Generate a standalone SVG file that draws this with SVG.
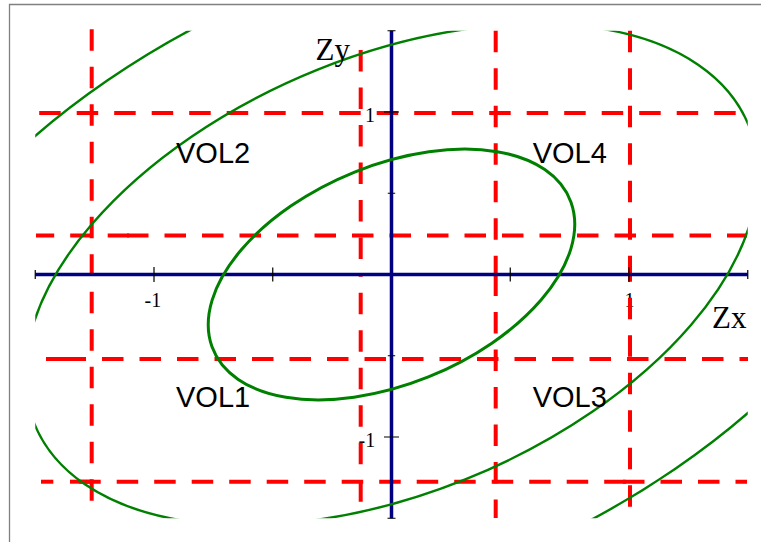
<svg xmlns="http://www.w3.org/2000/svg" width="761" height="542" viewBox="0 0 761 542">
<style>
.frame{fill:none;stroke:#808080;stroke-width:1.3}
.grid{fill:none;stroke:#ff0000;stroke-width:4;stroke-dasharray:21.5 16}
.solid{fill:none;stroke:#ff0000;stroke-width:4}
.axis{fill:none;stroke:#000080;stroke-width:3.5}
.tick{fill:none;stroke:#000000;stroke-width:1.2}
.curve{fill:none;stroke:#008000;stroke-width:2.4;vector-effect:non-scaling-stroke}
.inner{stroke-width:3}
.num{font-family:"Liberation Serif","Times New Roman",serif;font-size:20px;fill:#000}
.name{font-family:"Liberation Serif","Times New Roman",serif;font-size:31px;fill:#000}
.vol{font-family:"Liberation Sans",Arial,sans-serif;font-size:29px;fill:#000}
</style>
<defs>
<clipPath id="plot"><rect x="35.25" y="30.75" width="712.5" height="487.5"/></clipPath>
</defs>
<rect width="761" height="542" fill="#ffffff"/>
<path class="frame" d="M9.5,542 V4.5 H761"/>

<g id="tick-labels">
<text class="num" x="144.5" y="306.7">-1</text>
<text class="num" x="624.5" y="306.7">1</text>
<text class="num" x="365" y="121.7">1</text>
<text class="num" x="358.5" y="446.7">-1</text>
</g>

<g id="grid-lines">
<line class="grid" x1="35" y1="113" x2="747" y2="113" stroke-dashoffset="33.3"/>
<line class="grid" x1="36" y1="235.5" x2="129.2" y2="235.5" stroke-dashoffset="3.3"/>
<line class="grid" x1="127" y1="235.5" x2="747" y2="235.5"/>
<line class="solid" x1="46" y1="359" x2="66" y2="359"/>
<line class="grid" x1="46" y1="359" x2="748" y2="359" stroke-dashoffset="19"/>
<line class="solid" x1="41" y1="481.7" x2="53.3" y2="481.7"/>
<line class="solid" x1="70" y1="481.7" x2="92" y2="481.7"/>
<line class="grid" x1="79.2" y1="481.7" x2="625.7" y2="481.7"/>
<line class="grid" x1="623" y1="481.7" x2="747" y2="481.7"/>
<line class="grid" x1="91.7" y1="29.3" x2="91.7" y2="501.7"/>
<line class="grid" x1="360.7" y1="50" x2="360.7" y2="274.5"/>
<line class="grid" x1="360.7" y1="501.7" x2="360.7" y2="274.5"/>
<line class="grid" x1="495.7" y1="30.7" x2="495.7" y2="274.5"/>
<line class="grid" x1="495.7" y1="274.5" x2="495.7" y2="518"/>
<line class="grid" x1="630" y1="30.7" x2="630" y2="274.5"/>
<line class="grid" x1="630" y1="506.7" x2="630" y2="274.5"/>
</g>

<g id="axes">
<line class="axis" x1="35.25" y1="274.5" x2="747.75" y2="274.5"/>
<line class="axis" x1="391.5" y1="30.75" x2="391.5" y2="518.25"/>
<path class="tick" d="M35.25,270 V279 M154,267 V282 M272.75,267.5 V281.5 M510.25,267.5 V281.5 M629,267 V282 M747.75,270 V279"/>
<path class="tick" d="M387.5,30.75 H395.5 M384,112 H399 M387.8,193.25 H395.2 M387.8,355.75 H395.2 M384,437 H399 M387.5,518.25 H395.5"/>
</g>

<g id="contours" clip-path="url(#plot)">
<g transform="translate(391.5,274.5) scale(237.5,-162.5) rotate(45)">
<ellipse class="curve inner" cx="0" cy="0" rx="0.9129" ry="0.5976"/>
<ellipse class="curve" cx="0" cy="0" rx="1.8257" ry="1.1952"/>
<ellipse class="curve" cx="0" cy="0" rx="2.5820" ry="1.6903"/>
</g>
</g>

<g id="labels">
<text class="name" x="315.5" y="59.5">Zy</text>
<text class="name" x="712" y="327.7">Zx</text>
<text class="vol" x="176" y="163.3">VOL2</text>
<text class="vol" x="532.7" y="163.3">VOL4</text>
<text class="vol" x="176" y="406.7">VOL1</text>
<text class="vol" x="532.7" y="406.7">VOL3</text>
</g>
</svg>
